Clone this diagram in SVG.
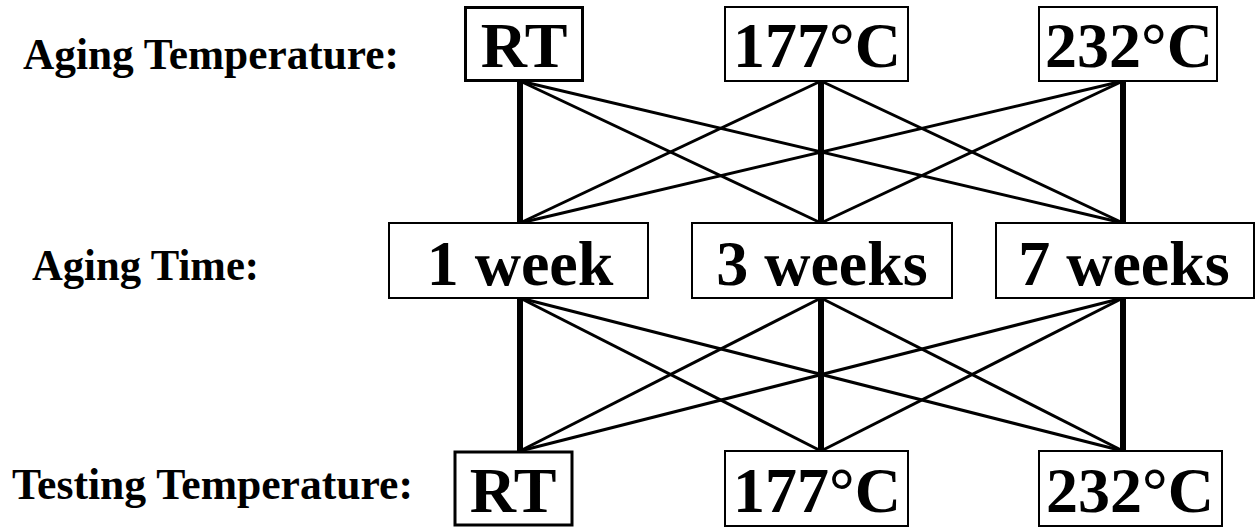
<svg xmlns="http://www.w3.org/2000/svg" width="1256" height="527" viewBox="0 0 1256 527">
<style>
.box{fill:#fff;stroke:#000;stroke-width:2}
.boxb{fill:#fff;stroke:#000;stroke-width:3}
.t{font-family:"Liberation Serif","Times New Roman",serif;font-weight:bold;font-size:64px;text-anchor:middle;fill:#000}
.lab{font-family:"Liberation Serif","Times New Roman",serif;font-weight:bold;font-size:43.5px;fill:#000}
.thick{stroke:#000;stroke-width:6;fill:none}
.thin{stroke:#000;stroke-width:3;fill:none}
</style>
<rect width="1256" height="527" fill="#fff"/>
<g id="connectors">
<line class="thick" x1="520" y1="81" x2="520" y2="223"/>
<line class="thick" x1="821" y1="81" x2="821" y2="223"/>
<line class="thick" x1="1123" y1="81" x2="1123" y2="223"/>
<line class="thin" x1="520" y1="81" x2="821" y2="223"/>
<line class="thin" x1="520" y1="81" x2="1123" y2="223"/>
<line class="thin" x1="821" y1="81" x2="520" y2="223"/>
<line class="thin" x1="821" y1="81" x2="1123" y2="223"/>
<line class="thin" x1="1123" y1="81" x2="520" y2="223"/>
<line class="thin" x1="1123" y1="81" x2="821" y2="223"/>
<line class="thick" x1="520" y1="298" x2="520" y2="451"/>
<line class="thick" x1="821" y1="298" x2="821" y2="451"/>
<line class="thick" x1="1123" y1="298" x2="1123" y2="451"/>
<line class="thin" x1="520" y1="298" x2="821" y2="451"/>
<line class="thin" x1="520" y1="298" x2="1123" y2="451"/>
<line class="thin" x1="821" y1="298" x2="520" y2="451"/>
<line class="thin" x1="821" y1="298" x2="1123" y2="451"/>
<line class="thin" x1="1123" y1="298" x2="520" y2="451"/>
<line class="thin" x1="1123" y1="298" x2="821" y2="451"/>
</g>
<g id="label-aging-temp"><text class="lab" x="23" y="69" textLength="376" lengthAdjust="spacingAndGlyphs">Aging Temperature:</text></g>
<g id="label-aging-time"><text class="lab" x="32" y="280" textLength="227" lengthAdjust="spacingAndGlyphs">Aging Time:</text></g>
<g id="label-testing-temp"><text class="lab" x="12" y="499" textLength="401" lengthAdjust="spacingAndGlyphs">Testing Temperature:</text></g>
<g id="top-rt"><rect class="boxb" x="465.5" y="7.5" width="117" height="73"/><text class="t" x="524" y="67">RT</text></g>
<g id="top-177"><rect class="box" x="725" y="7" width="183" height="74"/><text class="t" x="817" y="67">177°C</text></g>
<g id="top-232"><rect class="box" x="1039" y="7" width="178" height="74"/><text class="t" x="1129" y="67">232°C</text></g>
<g id="mid-1w"><rect class="box" x="389" y="223" width="259" height="75"/><text class="t" x="520" y="285">1 week</text></g>
<g id="mid-3w"><rect class="box" x="692" y="223" width="260" height="75"/><text class="t" x="822" y="285">3 weeks</text></g>
<g id="mid-7w"><rect class="box" x="996" y="223" width="258" height="75"/><text class="t" x="1124" y="285">7 weeks</text></g>
<g id="bot-rt"><rect class="boxb" x="455" y="452" width="117" height="73"/><text class="t" x="513" y="512">RT</text></g>
<g id="bot-177"><rect class="box" x="725" y="451" width="183" height="75"/><text class="t" x="817" y="512">177°C</text></g>
<g id="bot-232"><rect class="box" x="1039" y="451" width="183" height="75"/><text class="t" x="1130" y="512">232°C</text></g>
</svg>
